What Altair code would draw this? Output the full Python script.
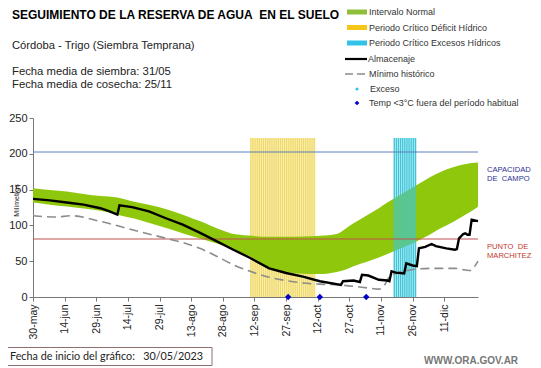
import altair as alt
import pandas as pd

# ---------------- data (day 0 = 30-may-2023) ----------------
tick_days = [0, 15, 30, 45, 60, 75, 90, 105, 120, 135, 150, 165, 180, 195]
tick_labels = ["30-may", "14-jun", "29-jun", "14-jul", "29-jul", "13-ago", "28-ago",
               "12-sep", "27-sep", "12-oct", "27-oct", "11-nov", "26-nov", "11-dic"]

band_days = [0, 8, 16, 24, 32, 40, 48, 56, 64, 72, 80, 88, 96, 104, 112, 120, 128, 136,
             144, 148, 152, 156, 160, 164, 168, 172, 176, 180, 184, 188, 192, 196, 200,
             204, 208, 211]
band_high = [152, 149.5, 147.5, 144, 141, 139, 133, 128, 122, 114, 105, 95, 87.5, 85.5,
             84, 84, 84.5, 85.5, 88, 95, 103, 110, 117, 124, 132, 139, 146, 153, 160,
             167, 173, 178, 182, 185, 187, 188]
band_low = [132, 129, 126.5, 123.5, 120.5, 115, 109.5, 102.5, 95.5, 88, 81, 74, 65, 55,
            41, 35, 32.5, 32, 35, 38, 43, 47, 51, 55, 60, 65, 70, 75, 81, 87, 94, 100,
            106, 113, 120, 126]

alm_days = [0, 8, 16, 24, 32, 36, 40, 41, 47, 55, 63, 71, 79, 87, 95, 103, 112, 120, 128,
            136, 144, 146, 147, 152, 155, 156, 159, 164, 168, 169, 170, 172, 176, 177,
            180, 182, 183, 186, 189, 191, 196, 200, 201, 202, 204, 205, 206, 207, 208, 211]
alm_vals = [137, 135, 132, 129, 124, 120, 115, 128, 125.5, 119.5, 110, 101, 90, 78, 66,
            54.5, 40, 33.5, 28.5, 22, 18, 17, 22, 23, 21, 31, 30, 24, 23, 22, 36, 34, 33,
            47, 44, 43, 68, 70, 74, 71, 68, 66, 67, 82, 88, 89, 87, 87, 108, 106]

min_days = [0, 11, 18, 32, 47, 63, 71, 79, 87, 95, 103, 112, 120, 128, 136, 144, 152, 159,
            164, 166, 169, 172, 176, 180, 190, 200, 207, 211]
min_vals = [113.5, 111.7, 113.5, 105.6, 94, 82, 76, 68, 57, 45, 35.8, 27.5, 23, 19.5, 18,
            17, 15, 12.5, 11, 14, 28, 33, 36, 38.5, 40, 40, 37, 50]

deficit_days = list(range(103, 134))     # Periodo crítico déficit hídrico
exceso_days = list(range(171, 182))      # Periodo crítico excesos hídricos
period_top = 222
frost_days = [121, 136, 158]             # Temp < 3°C
capacidad_campo = 202.5
punto_marchitez = 81

# ---------------- chart ----------------
FONT = "Liberation Sans"
NB = "\u00a0"
W, H = 445, 179
OX, OY = 33, 118  # page position of plot origin

x_scale = alt.Scale(domain=[0, 211], nice=False, zero=False)
y_scale = alt.Scale(domain=[0, 250], nice=False)

label_expr = "[" + ",".join("'%s'" % l for l in tick_labels) + "][round(datum.value/15)]"
x_axis = alt.Axis(values=tick_days, labelExpr=label_expr, labelAngle=270, labelFont=FONT,
                  labelFontSize=10.5, labelColor="#222", tickSize=4, tickColor="#777",
                  domainColor="#777", grid=False, title=None, labelPadding=3,
                  labelOverlap=False)
y_axis = alt.Axis(values=[0, 50, 100, 150, 200, 250], labelFont=FONT, labelFontSize=11,
                  labelColor="#222", tickSize=4, tickColor="#777", domainColor="#777",
                  grid=False, title="Milímetros", titleFont=FONT, titleFontSize=7,
                  titleFontWeight="normal", titleColor="#222", titleAngle=270,
                  titleX=-14, titleY=82, labelPadding=2)

X = alt.X("day:Q", scale=x_scale, axis=x_axis)
Y = alt.Y("val:Q", scale=y_scale, axis=y_axis)

band_df = pd.DataFrame({"day": band_days, "val": band_high, "lo": band_low})
alm_df = pd.DataFrame({"day": alm_days, "val": alm_vals})
min_df = pd.DataFrame({"day": min_days, "val": min_vals})
def_df = pd.DataFrame({"day": deficit_days, "val": [period_top] * len(deficit_days)})
def_df["d2"] = def_df["day"] + 0.62
exc_df = pd.DataFrame({"day": exceso_days, "val": [period_top] * len(exceso_days)})
exc_df["d2"] = exc_df["day"] + 0.62
def_bg = pd.DataFrame({"day": [deficit_days[0]], "d2": [deficit_days[-1] + 1], "val": [period_top]})
exc_bg = pd.DataFrame({"day": [exceso_days[0]], "d2": [exceso_days[-1] + 1], "val": [period_top]})
frost_df = pd.DataFrame({"day": frost_days, "val": [0] * len(frost_days)})

layers = []
layers.append(alt.Chart(def_bg).mark_rect(color="#FBF4C6").encode(
    x=X, x2="d2:Q", y=Y, y2=alt.datum(0)))
layers.append(alt.Chart(def_df).mark_rect(color="#F0D865").encode(
    x=X, x2="d2:Q", y=Y, y2=alt.datum(0)))
layers.append(alt.Chart(exc_bg).mark_rect(color="#C9EFF5").encode(
    x=X, x2="d2:Q", y=Y, y2=alt.datum(0)))
layers.append(alt.Chart(band_df).mark_area(color="#8FC70C", opacity=1, interpolate="monotone").encode(
    x=X, y=Y, y2="lo:Q"))
layers.append(alt.Chart(exc_df).mark_rect(color="#3CC6DA").encode(
    x=X, x2="d2:Q", y=Y, y2=alt.datum(0)))
layers.append(alt.Chart(pd.DataFrame({"val": [capacidad_campo]})).mark_rule(
    color="#5A7FB8", strokeWidth=1).encode(y=Y))
layers.append(alt.Chart(pd.DataFrame({"val": [punto_marchitez]})).mark_rule(
    color="#C0504D", strokeWidth=1).encode(y=Y))
layers.append(alt.Chart(min_df).mark_line(color="#8C8C8C", strokeWidth=1.6,
                                          strokeDash=[9, 5], interpolate="monotone").encode(x=X, y=Y))
layers.append(alt.Chart(alm_df).mark_line(color="#000000", strokeWidth=2.4).encode(x=X, y=Y))
layers.append(alt.Chart(frost_df).mark_point(shape="diamond", filled=True, size=40,
                                             color="#0000CC", opacity=1).encode(x=X, y=Y))

dummy = pd.DataFrame({"a": [0]})


def txt(s, px, py, size=9, color="#333", weight="normal", font=FONT, align="left"):
    return alt.Chart(dummy).mark_text(text=s, align=align, baseline="middle", font=font,
                                      fontSize=size, color=color, fontWeight=weight).encode(
        x=alt.value(px - OX), y=alt.value(py - OY))


def hline(x1, x2, py, color, width, dash=None):
    kw = dict(color=color, strokeWidth=width)
    if dash:
        kw["strokeDash"] = dash
    return alt.Chart(dummy).mark_rule(**kw).encode(
        x=alt.value(x1 - OX), x2=alt.value(x2 - OX), y=alt.value(py - OY))


# titles
layers.append(txt("SEGUIMIENTO DE LA RESERVA DE AGUA" + NB + NB + "EN EL SUELO", 12, 15, size=12,
                  color="#000", weight="bold"))
layers.append(txt("Córdoba - Trigo (Siembra Temprana)", 12, 46, size=11.2, color="#222"))
layers.append(txt("Fecha media de siembra: 31/05", 12, 72, size=11.3, color="#222"))
layers.append(txt("Fecha media de cosecha: 25/11", 12, 85, size=11.3, color="#222"))

# legend
layers.append(hline(347, 367, 12, "#8FBF3A", 5))
layers.append(hline(347, 367, 27.5, "#F5C518", 5))
layers.append(hline(347, 367, 43, "#33C3E8", 5))
layers.append(hline(345, 367, 59, "#000000", 2.2))
layers.append(hline(345, 367, 74, "#8C8C8C", 1.6, dash=[8, 4]))
layers.append(alt.Chart(dummy).mark_point(shape="circle", filled=True, size=10, color="#33C3E8",
                                          opacity=1).encode(x=alt.value(357 - OX), y=alt.value(89 - OY)))
layers.append(alt.Chart(dummy).mark_point(shape="diamond", filled=True, size=22, color="#0000CC",
                                          opacity=1).encode(x=alt.value(357 - OX), y=alt.value(103 - OY)))
layers.append(txt("Intervalo Normal", 369, 12))
layers.append(txt("Periodo Crítico Déficit Hídrico", 369, 27.5))
layers.append(txt("Periodo Crítico Excesos Hídricos", 369, 43))
layers.append(txt("Almacenaje", 368, 59))
layers.append(txt("Mínimo histórico", 369, 74))
layers.append(txt("Exceso", 370, 89))
layers.append(txt("Temp <3°C fuera del período habitual", 369, 103))

# right annotations
layers.append(txt("CAPACIDAD", 487, 170, size=7.6, color="#2E3192"))
layers.append(txt("DE" + NB + NB + "CAMPO", 487, 179, size=7.6, color="#2E3192"))
layers.append(txt("PUNTO" + NB + NB + "DE", 487, 247, size=7.6, color="#C0392B"))
layers.append(txt("MARCHITEZ", 487, 256, size=7.6, color="#C0392B"))

# footer
layers.append(alt.Chart(dummy).mark_rect(fill="#FFFFFF", stroke="#8E7070", strokeWidth=1).encode(
    x=alt.value(3.5 - OX), x2=alt.value(212 - OX), y=alt.value(347.5 - OY), y2=alt.value(365.5 - OY)))
layers.append(txt("Fecha de inicio del gráfico:" + NB + NB + NB + "30/05/2023", 10, 357, size=10.8,
                  color="#222", font="Lato"))
layers.append(txt("WWW.ORA.GOV.AR", 424, 361, size=10, color="#777", weight="bold"))

chart = alt.layer(*layers).properties(
    width=W, height=H,
    padding={"left": 25, "top": 110, "right": 55, "bottom": 71},
    autosize=alt.AutoSizeParams(type="none"),
    background="white",
).configure_view(stroke=None)

chart.save("out.html", embed_options={"renderer": "svg", "actions": False})
